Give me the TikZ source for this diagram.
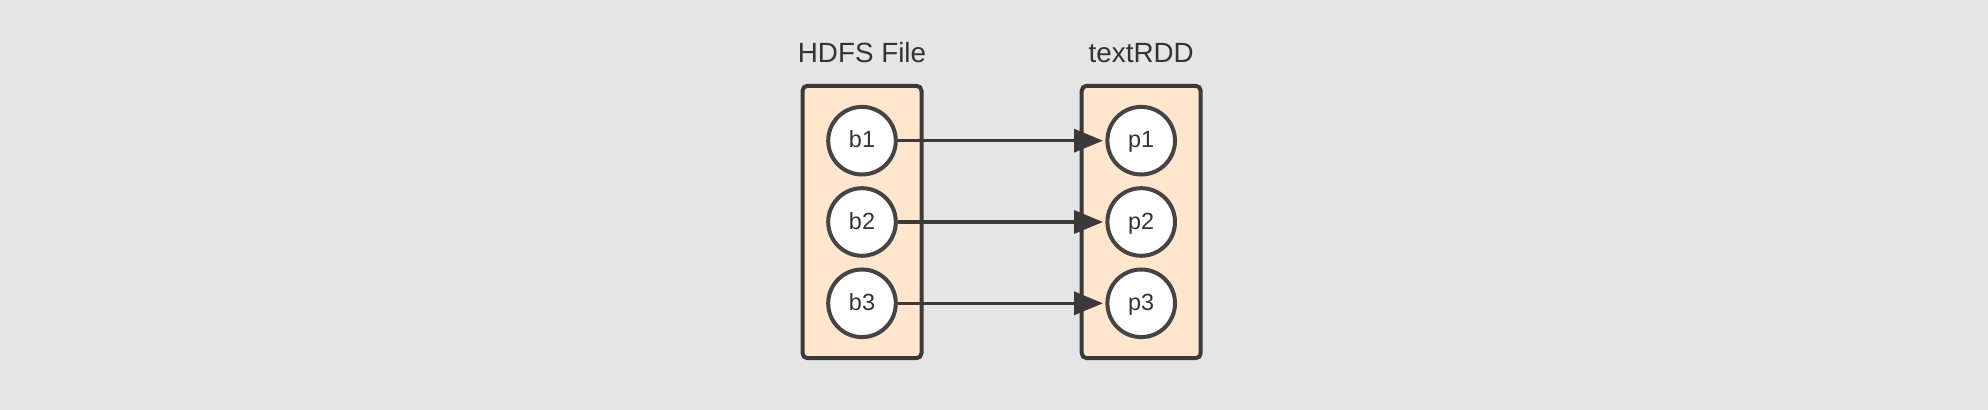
\documentclass[tikz,border=0pt]{standalone}
\usepackage{fontspec}
\setmainfont{Liberation Sans}
\usetikzlibrary{shapes,arrows.meta,positioning}
\definecolor{bggray}{HTML}{E5E5E5}
\definecolor{peach}{HTML}{FFE6CC}
\definecolor{darkline}{HTML}{3A3A3A}
\definecolor{darktext}{HTML}{333333}

\begin{document}
\begin{tikzpicture}[auto,
    block_box/.style ={rectangle, draw=darkline, line width=2pt, fill=peach,
      rounded corners=2.5pt, minimum width=59.5pt, minimum height=136.2pt},
    block_circle/.style ={circle, draw=darkline!95, line width=2pt, fill=white,
      minimum size=33.8pt, inner sep=0pt, text=darktext,
      text height=0.716em, text depth=0pt, font=\fontsize{11.7}{13}\selectfont},
    block_title/.style ={rectangle, draw=none, inner sep=0pt, text=darktext,
      font=\fontsize{13.9}{16}\selectfont},
    line/.style ={draw=darkline, line width=1.7pt,
      -{Triangle[length=14.5pt,width=11.5pt]}, shorten >=1.2pt}]
    % background, fixes the margins
    \fill[bggray] (0,0) rectangle (994pt,205pt);
    % the two containers
    \node [block_box] (hdfs) at (431pt,94pt) {};
    \node [block_box, on grid, right=139.6pt of hdfs] (textrdd) {};
    % titles
    \node [block_title, above=10.6pt of hdfs.north, anchor=base] (hdfs_title) {HDFS File};
    \node [block_title, above=10.6pt of textrdd.north, anchor=base] (textrdd_title) {textRDD};
    % blocks and partitions
    \begin{scope}[node distance=40.65pt, on grid]
      % row 2
      \node [block_circle] (b2) at (hdfs) {b2};
      \node [block_circle] (p2) at (textrdd) {p2};
      % row 1
      \node [block_circle, above=of b2] (b1) {b1};
      \node [block_circle, above=of p2] (p1) {p1};
      % row 3
      \node [block_circle, below=of b2] (b3) {b3};
      \node [block_circle, below=of p2] (p3) {p3};
    \end{scope}
    % connecting nodes with paths
    \begin{scope}[every path/.style=line]
     \path (b1) -- (p1);
     \path (b2) -- (p2);
     \path (b3) -- (p3);
    \end{scope}
\end{tikzpicture}
\end{document}
